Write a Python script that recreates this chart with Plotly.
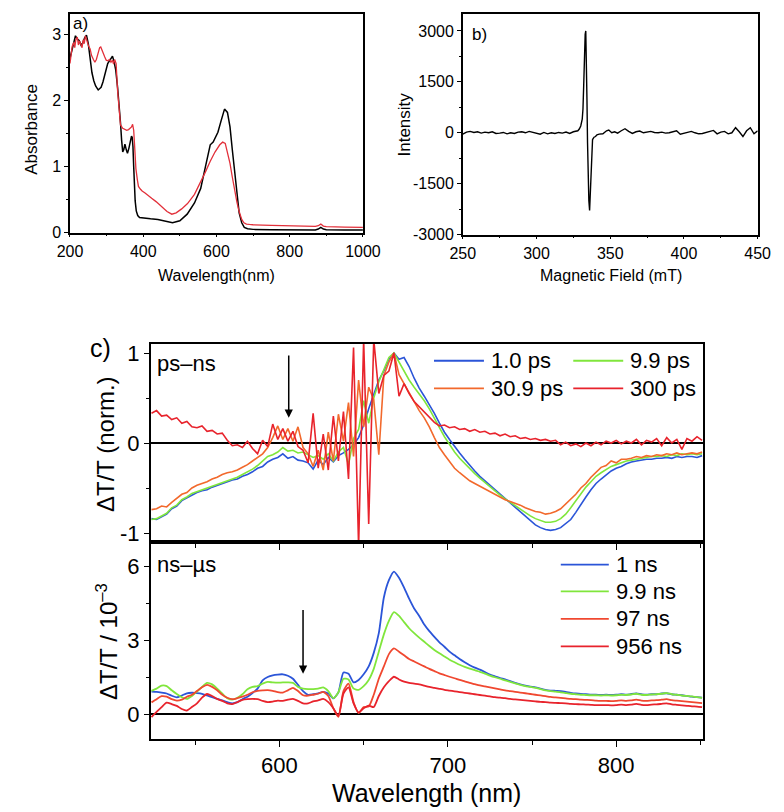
import plotly.graph_objects as go

W, H = 784, 812
FONT = "Liberation Sans, Arial, sans-serif"

# ---------------- panel a: absorbance ----------------
abs_wl_black = [200,205,210,215,220,225,230,235,240,245,250,255,260,265,270,277,285,290,297,303,
                310,316,320,325,330,334,338,341,344,347,350,354,357,361,365,368,370,372,374,376,
                378,381,385,390,400,420,440,460,480,500,520,540,557,570,583,591,604,613,622,630,
                637,643,650,656,662,669,676,685,700,750,800,850,870,878,885,892,900,950,1000]
abs_black = [2.64,2.75,2.9,2.98,2.93,2.91,2.84,2.87,2.95,2.99,2.86,2.6,2.42,2.3,2.22,2.16,2.2,2.28,2.42,2.56,
             2.62,2.67,2.6,2.46,2.2,1.96,1.66,1.4,1.22,1.26,1.34,1.25,1.2,1.28,1.38,1.46,1.44,1.3,1.0,0.7,
             0.48,0.33,0.26,0.23,0.22,0.21,0.2,0.17,0.15,0.18,0.28,0.45,0.67,1.0,1.33,1.37,1.52,1.7,1.87,1.82,
             1.6,1.27,0.9,0.57,0.3,0.15,0.08,0.06,0.05,0.045,0.04,0.04,0.042,0.055,0.08,0.055,0.045,0.04,0.04]

abs_wl_red = [200,203,206,210,213,216,220,223,226,229,233,236,239,242,246,251,255,259,264,268,
              272,277,281,284,287,290,295,299,303,308,312,316,319,322,326,330,334,338,344,350,
              355,360,364,368,371,374,376,380,384,387,392,397,405,415,423,435,450,465,478,490,
              505,521,540,557,570,583,596,609,617,624,630,637,643,650,656,662,669,675,682,690,
              700,750,800,850,870,878,885,892,900,950,1000]
abs_red = [2.56,2.7,2.82,2.88,2.8,2.92,2.96,2.84,2.9,2.86,2.8,2.92,2.86,2.98,2.9,2.82,2.78,2.68,2.62,2.58,
           2.62,2.73,2.8,2.81,2.76,2.71,2.66,2.61,2.6,2.62,2.58,2.61,2.55,2.62,2.56,2.15,1.85,1.63,1.58,1.56,
           1.55,1.56,1.58,1.6,1.64,1.55,1.36,0.97,0.8,0.7,0.66,0.63,0.6,0.55,0.52,0.47,0.4,0.32,0.28,0.3,
           0.36,0.44,0.58,0.76,0.92,1.08,1.22,1.33,1.37,1.35,1.22,1.05,0.85,0.62,0.46,0.32,0.2,0.15,0.13,0.125,
           0.12,0.11,0.1,0.09,0.095,0.105,0.13,0.1,0.09,0.085,0.08]

# ---------------- panel b: EPR ----------------
epr_field = [250,252.5,255,257.5,260,262.5,265,267.5,270,272.5,275,277.5,280,282.5,285,287.5,290,292.5,295,297.5,
             300,302.5,305,307.5,310,312.5,315,317.5,320,322.5,325,
             327,328,329,330,331,331.5,332,332.5,333,333.4,
             333.8,334.2,334.6,335,335.5,336,336.5,337,337.5,338,
             339,340,341,342.5,345,347.5,349,351,353,355,
             357.5,360,362.5,365,367.5,370,372.5,375,377.5,380,
             382.5,385,387.5,390,392.5,395,397.5,400,402.5,405,
             407.5,410,412.5,415,417.5,420,422.5,425,427.5,430,
             432.5,435,437.5,440,442.5,445,447.5,450]
epr_int = [-40,20,40,10,30,-10,20,0,30,-20,-10,10,-30,0,-20,20,30,0,40,10,
           -10,-40,10,-30,0,-20,10,-10,20,-20,30,
           50,60,110,200,400,700,1400,2300,2900,3000,
           2300,1000,-300,-1200,-2000,-2290,-1700,-900,-400,-200,
           -130,-110,-60,-40,-30,60,80,0,30,-10,
           60,120,40,-20,30,50,0,20,40,10,
           0,20,-10,0,40,60,-40,-20,20,40,
           0,-30,-20,10,20,70,-30,20,40,-30,
           0,150,30,-110,60,150,-30,60]

# ---------------- panel c: transient spectra ----------------
wl = [524,527,530,533,536,539,542,545,548,551,
      554,557,560,563,566,569,572,575,578,581,
      584,587,590,593,596,599,602,605,608,611,
      614,617,620,623,626,629,632,635,638,641,
      644,647,650,653,656,659,662,665,668,671,
      674,677,680,683,686,689,692,695,698,701,
      704,707,710,713,716,719,722,725,728,731,
      734,737,740,743,746,749,752,755,758,761,
      764,767,770,773,776,779,782,785,788,791,
      794,797,800,803,806,809,812,815,818,821,
      824,827,830,833,836,839,842,845,848,851]

ps_labels = ["1.0 ps", "9.9 ps", "30.9 ps", "300 ps"]
ps_1p0 = [-0.84,-0.85,-0.82,-0.79,-0.73,-0.70,-0.64,-0.61,-0.58,-0.55,
          -0.53,-0.52,-0.49,-0.47,-0.45,-0.43,-0.41,-0.40,-0.37,-0.35,
          -0.32,-0.28,-0.26,-0.21,-0.18,-0.16,-0.12,-0.17,-0.15,-0.19,
          -0.20,-0.22,-0.29,-0.19,-0.24,-0.16,-0.21,-0.14,-0.11,-0.07,
          -0.02,0.06,0.20,0.38,0.55,0.70,0.80,0.93,1.00,0.93,
          0.95,0.85,0.72,0.61,0.52,0.43,0.33,0.22,0.12,0.04,
          -0.04,-0.11,-0.18,-0.25,-0.31,-0.37,-0.42,-0.47,-0.52,-0.57,
          -0.62,-0.67,-0.72,-0.77,-0.82,-0.87,-0.91,-0.94,-0.96,-0.97,
          -0.96,-0.94,-0.90,-0.85,-0.77,-0.68,-0.60,-0.52,-0.45,-0.40,
          -0.35,-0.31,-0.28,-0.26,-0.23,-0.21,-0.20,-0.19,-0.18,-0.18,
          -0.17,-0.17,-0.16,-0.17,-0.15,-0.16,-0.15,-0.15,-0.16,-0.14]
ps_9p9 = [-0.85,-0.84,-0.81,-0.78,-0.72,-0.69,-0.63,-0.60,-0.56,-0.54,
          -0.52,-0.50,-0.48,-0.46,-0.44,-0.42,-0.40,-0.38,-0.35,-0.32,
          -0.29,-0.25,-0.20,-0.15,-0.13,-0.10,-0.05,-0.09,-0.08,-0.11,
          -0.10,-0.13,-0.16,-0.14,-0.18,-0.12,-0.20,-0.10,-0.05,-0.24,
          0.05,0.15,0.47,0.22,0.50,0.68,0.82,0.95,1.00,0.90,
          0.80,0.70,0.62,0.55,0.47,0.38,0.27,0.17,0.07,-0.02,
          -0.10,-0.17,-0.23,-0.29,-0.34,-0.39,-0.44,-0.49,-0.54,-0.58,
          -0.62,-0.66,-0.70,-0.74,-0.78,-0.81,-0.84,-0.86,-0.88,-0.88,
          -0.87,-0.84,-0.79,-0.72,-0.64,-0.56,-0.49,-0.43,-0.37,-0.33,
          -0.29,-0.26,-0.24,-0.22,-0.20,-0.19,-0.18,-0.17,-0.16,-0.15,
          -0.15,-0.14,-0.15,-0.13,-0.14,-0.12,-0.13,-0.12,-0.13,-0.12]
ps_30p9 = [-0.74,-0.73,-0.70,-0.71,-0.66,-0.62,-0.57,-0.55,-0.50,-0.47,
           -0.45,-0.43,-0.40,-0.38,-0.35,-0.33,-0.32,-0.30,-0.27,-0.24,
           -0.20,-0.16,-0.12,-0.05,0.06,0.19,0.04,0.16,0.02,0.18,
           -0.05,-0.12,-0.26,-0.08,-0.30,0.12,-0.20,0.32,0.02,0.45,
           -0.15,0.70,0.18,0.62,0.48,-0.13,0.75,0.90,1.00,0.76,
           0.66,0.55,0.45,0.36,0.28,0.18,0.06,-0.05,-0.13,-0.21,
           -0.28,-0.33,-0.38,-0.42,-0.45,-0.48,-0.51,-0.54,-0.57,-0.60,
           -0.63,-0.65,-0.67,-0.69,-0.72,-0.74,-0.76,-0.77,-0.79,-0.78,
           -0.76,-0.73,-0.68,-0.63,-0.57,-0.50,-0.45,-0.38,-0.33,-0.27,
           -0.25,-0.20,-0.22,-0.18,-0.18,-0.17,-0.15,-0.16,-0.14,-0.15,
           -0.13,-0.14,-0.12,-0.13,-0.11,-0.13,-0.12,-0.11,-0.12,-0.10]
ps_300 = [0.33,0.36,0.30,0.31,0.26,0.28,0.22,0.24,0.18,0.17,
          0.19,0.13,0.14,0.10,0.11,0.03,-0.03,-0.02,-0.05,0.02,
          -0.06,-0.12,0.03,-0.04,0.21,0.04,0.16,0.02,0.13,-0.04,
          -0.08,-0.22,0.33,-0.28,0.10,-0.30,0.30,-0.20,0.35,-0.40,
          1.06,-1.15,1.15,-0.90,1.15,0.55,0.75,0.80,1.00,0.52,
          0.66,0.55,0.46,0.40,0.34,0.28,0.23,0.19,0.20,0.17,
          0.18,0.15,0.16,0.13,0.15,0.12,0.13,0.10,0.11,0.08,
          0.10,0.07,0.08,0.05,0.06,0.04,0.05,0.03,0.04,0.02,
          0.03,-0.02,0.01,-0.03,-0.01,-0.04,0.00,-0.03,0.01,-0.02,
          0.02,0.00,0.03,-0.01,0.02,0.00,0.04,-0.02,0.03,0.01,
          0.05,-0.03,0.06,0.00,0.04,-0.07,0.05,0.02,0.07,0.03]

ns_labels = ["1 ns", "9.9 ns", "97 ns", "956 ns"]
ns_1 = [0.93,0.92,0.89,0.85,0.76,0.69,0.77,0.86,0.88,0.87,
        0.84,0.77,0.70,0.63,0.57,0.50,0.45,0.50,0.62,0.72,
        0.87,1.05,1.38,1.52,1.59,1.62,1.63,1.57,1.45,1.20,
        0.95,0.80,0.82,0.86,0.92,0.85,0.65,0.90,1.70,1.65,
        1.30,1.40,1.63,1.95,2.50,3.30,4.75,5.45,5.80,5.55,
        5.15,4.70,4.30,4.00,3.65,3.38,3.15,2.93,2.75,2.55,
        2.40,2.25,2.12,2.00,1.90,1.82,1.72,1.62,1.55,1.48,
        1.42,1.35,1.28,1.22,1.17,1.13,1.10,1.05,1.00,0.97,
        0.96,0.95,0.92,0.88,0.85,0.83,0.82,0.80,0.80,0.79,
        0.80,0.79,0.80,0.82,0.80,0.83,0.85,0.82,0.80,0.82,
        0.82,0.85,0.86,0.82,0.80,0.78,0.75,0.72,0.70,0.68]
ns_9p9 = [0.96,1.05,1.17,1.15,0.98,0.83,0.70,0.63,0.75,0.93,
          1.12,1.28,1.22,1.05,0.85,0.66,0.60,0.68,0.82,1.02,
          1.12,1.15,1.25,1.32,1.30,1.29,1.30,1.30,1.28,1.12,
          1.05,1.03,1.03,1.05,1.10,0.95,0.66,0.90,1.45,1.42,
          1.05,1.00,1.15,1.40,1.85,2.55,3.25,3.80,4.15,4.00,
          3.75,3.50,3.30,3.12,2.95,2.78,2.62,2.48,2.35,2.22,
          2.12,2.02,1.93,1.86,1.80,1.73,1.66,1.58,1.51,1.45,
          1.38,1.32,1.26,1.20,1.15,1.12,1.08,1.03,0.98,0.95,
          0.93,0.90,0.87,0.84,0.82,0.80,0.79,0.78,0.78,0.77,
          0.78,0.77,0.78,0.80,0.79,0.81,0.84,0.80,0.79,0.81,
          0.82,0.84,0.87,0.82,0.80,0.77,0.75,0.73,0.70,0.67]
ns_97 = [0.49,0.62,0.74,0.72,0.62,0.56,0.60,0.72,0.80,0.95,
         1.10,1.20,1.12,0.98,0.80,0.68,0.62,0.66,0.72,0.80,
         0.90,0.96,0.98,0.99,0.96,0.91,0.89,0.98,1.08,0.95,
         0.78,0.76,0.80,0.84,0.92,0.75,0.25,-0.10,0.95,1.25,
         0.50,0.05,0.30,0.32,0.80,1.45,1.95,2.45,2.68,2.55,
         2.40,2.25,2.15,2.05,1.95,1.85,1.76,1.67,1.60,1.53,
         1.47,1.40,1.34,1.28,1.23,1.18,1.14,1.10,1.06,1.02,
         0.98,0.95,0.92,0.89,0.86,0.83,0.80,0.77,0.74,0.71,
         0.69,0.67,0.65,0.63,0.62,0.60,0.59,0.58,0.56,0.55,
         0.55,0.54,0.55,0.57,0.55,0.57,0.60,0.56,0.55,0.57,
         0.58,0.60,0.62,0.58,0.56,0.54,0.52,0.50,0.48,0.46]
ns_956 = [-0.11,0.10,0.30,0.48,0.42,0.35,0.22,0.16,0.30,0.45,
          0.68,0.83,0.75,0.63,0.55,0.45,0.42,0.50,0.59,0.62,
          0.63,0.62,0.55,0.50,0.52,0.56,0.55,0.60,0.63,0.55,
          0.45,0.45,0.53,0.57,0.63,0.50,0.25,-0.06,0.85,1.10,
          0.45,0.08,0.25,0.36,0.30,0.75,1.10,1.35,1.53,1.42,
          1.33,1.28,1.25,1.22,1.17,1.12,1.08,1.04,1.00,0.97,
          0.94,0.91,0.88,0.85,0.82,0.79,0.76,0.73,0.70,0.68,
          0.66,0.63,0.61,0.59,0.57,0.55,0.53,0.51,0.50,0.48,
          0.47,0.46,0.45,0.43,0.42,0.41,0.40,0.39,0.38,0.38,
          0.38,0.37,0.38,0.40,0.38,0.40,0.43,0.39,0.38,0.40,
          0.41,0.43,0.45,0.41,0.39,0.37,0.35,0.33,0.32,0.30]

# arrows (wavelength, tail value, head value)
arrow_top = (605.5, 0.99, 0.28)
arrow_bot = (614.0, 4.3, 1.65)

# ---------------- styles ----------------
C_BLUE = "#2b55d8"
C_GREEN = "#80e63c"
C_ORANGE = "#f2692c"
C_RED = "#e8232c"
C_97 = "#f04830"
C_ABS_RED = "#e2303a"
ps_colors = [C_BLUE, C_GREEN, C_ORANGE, C_RED]
ns_colors = [C_BLUE, C_GREEN, C_97, C_RED]


def px(x):
    return x / W


def py(y):
    return 1 - y / H


fig = go.Figure()

# panel a
fig.add_trace(go.Scatter(x=abs_wl_black, y=abs_black, mode="lines", line=dict(color="black", width=1.5),
                         xaxis="x", yaxis="y"))
fig.add_trace(go.Scatter(x=abs_wl_red, y=abs_red, mode="lines", line=dict(color=C_ABS_RED, width=1.3),
                         xaxis="x", yaxis="y"))
# panel b
fig.add_trace(go.Scatter(x=epr_field, y=epr_int, mode="lines", line=dict(color="black", width=1.4),
                         xaxis="x2", yaxis="y2"))
# panel c top
for ys, c in zip([ps_1p0, ps_9p9, ps_30p9, ps_300], ps_colors):
    fig.add_trace(go.Scatter(x=wl, y=ys, mode="lines", line=dict(color=c, width=1.6),
                             xaxis="x3", yaxis="y3"))
# panel c bottom
for ys, c in zip([ns_1, ns_9p9, ns_97, ns_956], ns_colors):
    fig.add_trace(go.Scatter(x=wl, y=ys, mode="lines", line=dict(color=c, width=1.8, shape="spline", smoothing=0.6),
                             xaxis="x4", yaxis="y4"))


def axis(domain, rng, size, **kw):
    d = dict(domain=domain, range=rng, showline=True, linecolor="black", linewidth=1.5, mirror=True,
             ticks="outside", ticklen=5, tickwidth=1.3, tickcolor="black", showgrid=False, zeroline=False,
             tickfont=dict(family=FONT, size=size, color="black"))
    d.update(kw)
    return d


def minor(t0, dt, ln=3):
    return dict(tickmode="linear", tick0=t0, dtick=dt, ticks="outside", ticklen=ln, tickcolor="black",
                tickwidth=1.2, showgrid=False)


ya = [0, 1, 2, 3]
yb = [-3000, -1500, 0, 1500, 3000]
y3 = [-1, 0, 1]
y4 = [0, 3, 6]

fig.update_layout(
    width=W, height=H, margin=dict(l=0, r=0, t=0, b=0),
    paper_bgcolor="white", plot_bgcolor="white", showlegend=False,
    font=dict(family=FONT, color="black"),
    xaxis=axis([px(51), px(356)], [200, 1000], 16, anchor="y", tickvals=[200, 400, 600, 800, 1000],
               ticklen=3, minor=minor(100, 200, 2)),
    yaxis=axis([py(225), py(3)], [0, 3.31], 16, anchor="x", tickvals=ya, ticktext=[str(v) for v in ya],
               ticklen=4, minor=minor(0.5, 1, 2)),
    xaxis2=axis([px(460), px(767)], [250, 450], 16, anchor="y2", tickvals=[250, 300, 350, 400, 450],
                ticklen=3, minor=minor(275, 50, 2)),
    yaxis2=axis([py(227), py(3)], [-3000, 3500], 16, anchor="x2", tickvals=yb, ticktext=[str(v) for v in yb],
                ticklen=4, minor=minor(-2250, 1500, 2)),
    xaxis3=axis([px(135), px(710)], [523.5, 851.5], 22, anchor="y3", tickvals=[600, 700, 800],
                showticklabels=False, ticklen=6, minor=minor(550, 100, 4)),
    yaxis3=axis([py(539), py(338)], [-1.1, 1.1], 22, anchor="x3", tickvals=y3, ticktext=[str(v) for v in y3],
                minor=minor(-0.5, 1), zeroline=True, zerolinecolor="black", zerolinewidth=2),
    xaxis4=axis([px(135), px(710)], [523.5, 851.5], 22, anchor="y4", tickvals=[600, 700, 800],
                ticklen=6, minor=minor(550, 100, 4)),
    yaxis4=axis([py(739), py(539)], [-1, 7], 22, anchor="x4", tickvals=y4, ticktext=[str(v) for v in y4],
                minor=minor(1.5, 3), zeroline=True, zerolinecolor="black", zerolinewidth=2),
)

ann = []


def text(t, x, y, size, xanchor="center", yanchor="middle", angle=0):
    ann.append(dict(text=t, x=px(x), y=py(y), xref="paper", yref="paper", showarrow=False,
                    xanchor=xanchor, yanchor=yanchor, textangle=angle,
                    font=dict(family=FONT, size=size, color="black")))


# panel labels and titles
text("a)", 52, 13, 17, xanchor="left")
text("b)", 468, 24, 17, xanchor="left")
text("c)", 83, 342, 25)
text("Absorbance", 11, 120, 17, angle=-90)
text("Intensity", 399, 115, 17, angle=-90)
text("Wavelength(nm)", 204, 268, 16)
text("Magnetic Field (mT)", 614, 268, 16)
text("ΔT/T (norm.)", 88, 440, 24, angle=-90)
text("ΔT/T / 10<sup>–3</sup>", 89, 640, 24, angle=-90)
text("Wavelength (nm)", 422, 794, 25)
text("ps–ns", 140, 358, 22, xanchor="left")
text("ns–µs", 140, 562, 22, xanchor="left")

# manual legends
shapes = []
ps_leg_pos = [(430, 482, 487, 355), (575, 627, 632, 355), (430, 482, 487, 383), (575, 627, 632, 383)]
for lab, c, (x0, x1, xt, yy) in zip(ps_labels, ps_colors, ps_leg_pos):
    shapes.append(dict(type="line", xref="paper", yref="paper", x0=px(x0), x1=px(x1), y0=py(yy), y1=py(yy),
                       line=dict(color=c, width=1.8)))
    text(lab, xt, yy, 22, xanchor="left")
ns_rows = [562, 589, 617, 645]
for lab, c, yy in zip(ns_labels, ns_colors, ns_rows):
    shapes.append(dict(type="line", xref="paper", yref="paper", x0=px(562), x1=px(612), y0=py(yy), y1=py(yy),
                       line=dict(color=c, width=1.8)))
    text(lab, 617, yy, 22, xanchor="left")

# arrows
for (xa, tail, head), xr, yr in [(arrow_top, "x3", "y3"), (arrow_bot, "x4", "y4")]:
    ann.append(dict(x=xa, y=head, ax=xa, ay=tail, xref=xr, yref=yr, axref=xr, ayref=yr, text="",
                    showarrow=True, arrowhead=2, arrowsize=1.1, arrowwidth=1.5, arrowcolor="black"))

fig.update_layout(annotations=ann, shapes=shapes)
fig.write_html("out.html")
